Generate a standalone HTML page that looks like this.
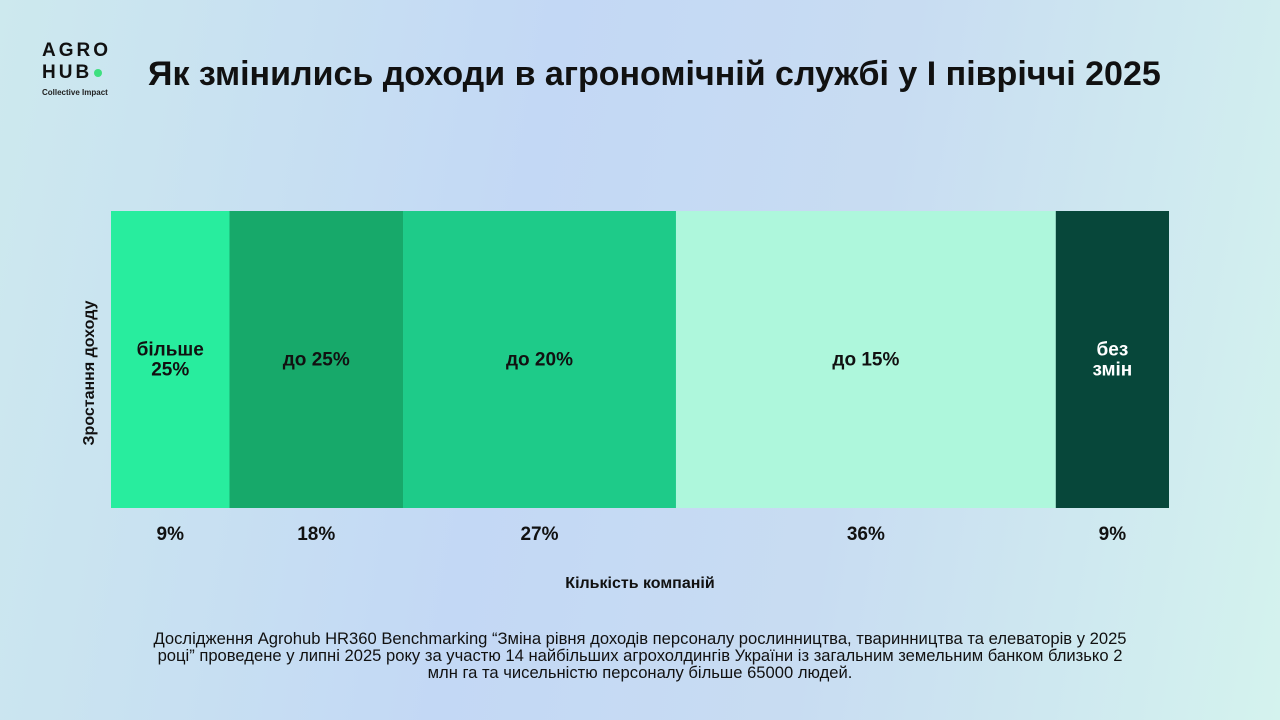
<!DOCTYPE html>
<html><head><meta charset="utf-8">
<style>
body{margin:0;width:1280px;height:720px;overflow:hidden;font-family:"Liberation Sans",sans-serif;
background:linear-gradient(100deg,#cde9ee 0%,#c3d8f5 40%,#c8dcf2 65%,#d4f3ee 100%);position:relative}
.abs{position:absolute}
</style></head><body>
<div class="abs" style="left:42px;top:40px;width:90px">
 <div style="font-weight:900;font-size:19px;letter-spacing:3px;line-height:22px;color:#111">AGRO</div>
 <div style="font-weight:900;font-size:19px;letter-spacing:3px;line-height:22px;color:#111">HUB<span style="display:inline-block;width:8px;height:8px;border-radius:50%;background:#3ee07f;margin-left:2px;vertical-align:middle"></span></div>
 <div style="font-size:8px;color:#222;margin-top:4px;font-weight:bold">Collective Impact</div>
</div>
<div class="abs" style="left:148px;top:55px;font-size:34px;font-weight:bold;color:#111">Як змінились доходи в агрономічній службі у І півріччі 2025</div>
<svg class="abs" style="left:0;top:0" width="1280" height="720" id="chart"></svg>
<div class="abs" style="left:100px;top:630px;width:1080px;text-align:center;font-size:16.6px;line-height:17px;color:#111">Дослідження Agrohub HR360 Benchmarking “Зміна рівня доходів персоналу рослинництва, тваринництва та елеваторів у 2025<br>році” проведене у липні 2025 року за участю 14 найбільших агрохолдингів України із загальним земельним банком близько 2<br>млн га та чисельністю персоналу більше 65000 людей.</div>
<script>
const categories=[['більше','25%'],['до 25%'],['до 20%'],['до 15%'],['без','змін']];
const shares=[11.2,16.4,25.8,35.9,10.7];
const valueLabels=['9%','18%','27%','36%','9%'];
const colors=['#28ed9e','#17a96a','#1ecb89','#aef7dc','#07473a'];
const textColors=['#111','#111','#111','#111','#fff'];
const svg=document.getElementById('chart');
const NS='http://www.w3.org/2000/svg';
const x0=111,x1=1169,y0=211,y1=508;
const total=shares.reduce((a,b)=>a+b,0);
const xs=v=>x0+(x1-x0)*v/total;
let acc=0;
function t(x,y,s,size,fill,anchor,weight){const e=document.createElementNS(NS,'text');e.setAttribute('x',x);e.setAttribute('y',y);e.setAttribute('font-size',size);e.setAttribute('fill',fill);e.setAttribute('text-anchor',anchor||'middle');e.setAttribute('font-weight',weight||'bold');e.setAttribute('font-family','Liberation Sans, sans-serif');e.textContent=s;svg.appendChild(e);return e;}
shares.forEach((v,i)=>{
 const a=xs(acc),b=xs(acc+v);acc+=v;
 const r=document.createElementNS(NS,'rect');
 r.setAttribute('x',a);r.setAttribute('y',y0);r.setAttribute('width',b-a);r.setAttribute('height',y1-y0);r.setAttribute('fill',colors[i]);
 
 
 svg.appendChild(r);
 const cx=(a+b)/2,cy=(y0+y1)/2;
 const lines=categories[i];
 lines.forEach((s,j)=>{const e=t(cx,cy+6+(j-(lines.length-1)/2)*20,s,19,textColors[i]);
  
  });
 const vl=t(cx,540,valueLabels[i],19,'#111');
 
 
});
const xt=t(640,588,'Кількість компаній',16,'#111');


const yt=t(0,0,'Зростання доходу',16,'#111');
yt.setAttribute('transform','translate(94,373) rotate(-90)');


</script>
</body></html>
